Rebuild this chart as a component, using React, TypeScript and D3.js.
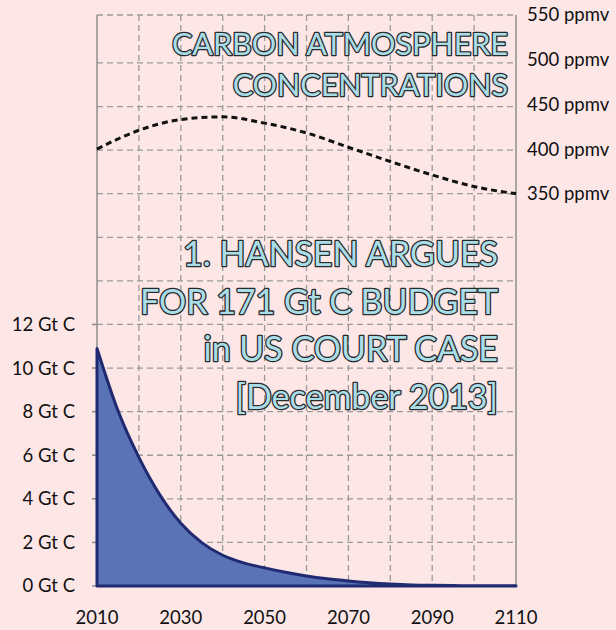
import React, { useEffect, useRef } from 'react';
import * as d3 from 'd3';

// emissions pathway (Gt C per year)
const years = [2010, 2015, 2020, 2025, 2030, 2035, 2040, 2045, 2050, 2055, 2060, 2065, 2070, 2075, 2080, 2085, 2090, 2095, 2100, 2105, 2110];
const emissions = [10.9, 8.05, 5.9, 4.18, 2.88, 1.99, 1.41, 1.06, 0.83, 0.63, 0.46, 0.33, 0.23, 0.15, 0.09, 0.05, 0.03, 0.02, 0.01, 0.01, 0.01];

// atmospheric concentration (ppmv)
const co2Years = [2010, 2020, 2030, 2040, 2050, 2060, 2070, 2080, 2090, 2100, 2110];
const co2 = [400, 421, 433, 436, 429, 418, 402, 386, 371, 358, 350];

const yearTicks = [2010, 2030, 2050, 2070, 2090, 2110];
const gtTicks = [0, 2, 4, 6, 8, 10, 12];
const ppmTicks = [350, 400, 450, 500, 550];

const titleLines = ['CARBON ATMOSPHERE', 'CONCENTRATIONS'];
const noteLines = ['1. HANSEN ARGUES', 'FOR 171 Gt C BUDGET', 'in US COURT CASE', '[December 2013]'];

const FONT = 'Lato, "Open Sans", sans-serif';

const App = () => {
    const svgRef = useRef(null);

    useEffect(() => {
        const svg = d3.select(svgRef.current);
        svg.selectAll('*').remove();

        const width = 616;
        const height = 630;
        const left = 97, right = 516, top = 15, bottom = 586;

        svg.append('rect').attr('width', width).attr('height', height).attr('fill', '#fde6e6');

        const x = d3.scaleLinear().domain([2010, 2110]).range([left, right]);
        const y = d3.scaleLinear().domain([0, 26.2]).range([bottom, top]);
        const yr = d3.scaleLinear().domain([350, 550]).range([y(18), top]);

        // grid
        const grid = svg.append('g').attr('stroke', '#9a9a9a').attr('stroke-width', 1.3).attr('stroke-dasharray', '6,4');
        d3.range(2020, 2110, 10).forEach(v => {
            grid.append('line').attr('x1', x(v)).attr('x2', x(v)).attr('y1', top).attr('y2', bottom);
        });
        d3.range(2, 26, 2).forEach(v => {
            grid.append('line').attr('x1', left).attr('x2', right).attr('y1', y(v)).attr('y2', y(v));
        });
        grid.append('line').attr('x1', left).attr('x2', right).attr('y1', top).attr('y2', top);

        // axis lines
        const axes = svg.append('g').attr('stroke', '#8c8c8c').attr('stroke-width', 1.5);
        axes.append('line').attr('x1', left).attr('x2', left).attr('y1', top).attr('y2', bottom);
        axes.append('line').attr('x1', right).attr('x2', right).attr('y1', top).attr('y2', bottom);
        axes.append('line').attr('x1', left).attr('x2', right).attr('y1', bottom).attr('y2', bottom);
        gtTicks.forEach(t => {
            axes.append('line').attr('x1', left - 5).attr('x2', left).attr('y1', y(t)).attr('y2', y(t));
        });

        // emissions area
        const pts: [number, number][] = years.map((yv, i) => [yv, emissions[i]]);
        const area = d3.area<[number, number]>()
            .x(d => x(d[0]))
            .y0(y(0))
            .y1(d => y(d[1]))
            .curve(d3.curveMonotoneX);
        svg.append('path')
            .datum(pts)
            .attr('d', area)
            .attr('fill', '#5a72b6')
            .attr('stroke', '#1f2a70')
            .attr('stroke-width', 3)
            .attr('stroke-linejoin', 'round');

        // concentration line
        const line = d3.line<[number, number]>()
            .x(d => x(d[0]))
            .y(d => yr(d[1]))
            .curve(d3.curveMonotoneX);
        svg.append('path')
            .datum(co2Years.map((yv, i) => [yv, co2[i]] as [number, number]))
            .attr('d', line)
            .attr('fill', 'none')
            .attr('stroke', '#111')
            .attr('stroke-width', 3)
            .attr('stroke-dasharray', '6,4');

        // tick labels
        const lab = svg.append('g').attr('font-family', FONT).attr('font-size', 18.5).attr('fill', '#111');
        gtTicks.forEach(t => {
            lab.append('text').attr('x', 75).attr('y', y(t)).attr('dy', '0.35em')
                .attr('text-anchor', 'end').text(`${t} Gt C`);
        });
        ppmTicks.forEach(t => {
            lab.append('text').attr('x', 527).attr('y', yr(t)).attr('dy', '0.35em')
                .attr('text-anchor', 'start').text(`${t} ppmv`);
        });
        yearTicks.forEach(t => {
            lab.append('text').attr('x', x(t)).attr('y', 624)
                .attr('text-anchor', 'middle').text(`${t}`);
        });

        // outlined headline text
        const outlined = (g, lines: string[], xEnd: number, y0: number, step: number, size: number) => {
            lines.forEach((s, i) => {
                g.append('text')
                    .attr('x', xEnd).attr('y', y0 + i * step)
                    .attr('text-anchor', 'end')
                    .attr('font-family', FONT)
                    .attr('font-size', size)
                    .attr('fill', '#a9dde8')
                    .attr('stroke', '#2a2a2a')
                    .attr('stroke-width', 2.6)
                    .attr('paint-order', 'stroke')
                    .attr('stroke-linejoin', 'round')
                    .text(s);
            });
        };
        const heads = svg.append('g');
        outlined(heads, titleLines, 508, 55, 41, 30.5);
        outlined(heads, noteLines, 498, 266, 47.7, 34);
    }, []);

    return (
        <svg ref={svgRef} width={616} height={630} style={{ position: 'absolute', left: 0, top: 0 }} />
    );
};

export default App;
